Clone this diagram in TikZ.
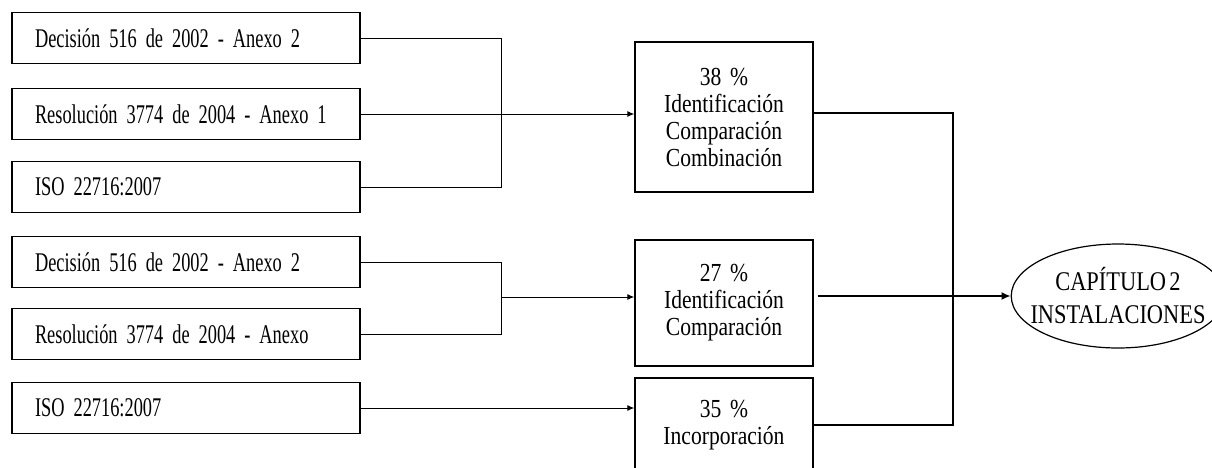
\documentclass[tikz,border=0pt]{standalone}
\usepackage{fontspec}
\setmainfont[FakeStretch=0.68]{Liberation Serif}
\newfontfamily\estrecha[FakeStretch=0.68,WordSpace=0.55]{Liberation Serif}
\newfontfamily\ancha[FakeStretch=0.83,WordSpace=0.6]{Liberation Serif}
\usetikzlibrary{arrows.meta,shapes.geometric}
\begin{document}
\begin{tikzpicture}[x=1pt,y=-1pt,
  fuente/.style={draw,line width=1.4pt,text width=302pt,inner xsep=23pt,inner ysep=0pt,
    minimum height=51pt,align=left,font=\estrecha\fontsize{27}{30}\selectfont},
  porcentaje/.style={draw,line width=1.4pt,text width=170pt,inner xsep=4pt,inner ysep=0pt,
    align=center,font=\ancha\fontsize{26}{27}\selectfont},
  linea/.style={line width=1pt},
  flecha/.style={line width=1pt,-{Latex[length=7pt,width=6pt]}},
  gruesa/.style={line width=2.2pt}]
\useasboundingbox (0,0) rectangle (1212,467);

% normas de la izquierda
\node[fuente] (dec1) at (186,38) {Decisión 516 de 2002 - Anexo 2};
\node[fuente] (res1) at (186,114) {Resolución 3774 de 2004 - Anexo 1};
\node[fuente] (iso1) at (186,187) {ISO 22716:2007};
\node[fuente] (dec2) at (186,262) {Decisión 516 de 2002 - Anexo 2};
\node[fuente] (res2) at (186,334) {Resolución 3774 de 2004 - Anexo};
\node[fuente] (iso2) at (186,408) {ISO 22716:2007};

% porcentajes
\node[porcentaje,minimum height=150pt] (pA) at (724,117) {38 \%\\Identificación\\Comparación\\Combinación};
\node[porcentaje,minimum height=126pt] (pB) at (724,303) {27 \%\\Identificación\\Comparación};
\node[porcentaje,minimum height=94pt] (pC) at (724,425) {35 \%\\Incorporación};

\node[ellipse,draw,line width=1.2pt,minimum width=210pt,minimum height=104pt,inner xsep=-12pt,inner ysep=0pt,
  align=center,font=\ancha\fontsize{27}{33}\selectfont] (cap) at (1118,296) {CAPÍTULO 2\\INSTALACIONES};

% llaves de la izquierda
\coordinate (j1) at (501,0);
\coordinate (j2) at (501,297);
\coordinate (bus) at (953,0);
\draw[linea] (dec1.east) -| (j1 |- iso1.east) -- (iso1.east);
\draw[flecha] (res1.east) -- (res1.east -| pA.west);
\draw[linea] (dec2.east) -| (j2 |- res2.east) -- (res2.east);
\draw[flecha] (j2) -- (j2 -| pB.west);
\draw[flecha] (iso2.east) -- (iso2.east -| pC.west);

% salida hacia el capitulo
\draw[gruesa] (pA.east |- 0,113) -| (bus |- pC.east) -- (pC.east);
\draw[gruesa,-{Latex[length=9pt,width=8pt]},shorten <=4pt] (pB.east |- cap.west) -- (cap.west);
\end{tikzpicture}
\end{document}
